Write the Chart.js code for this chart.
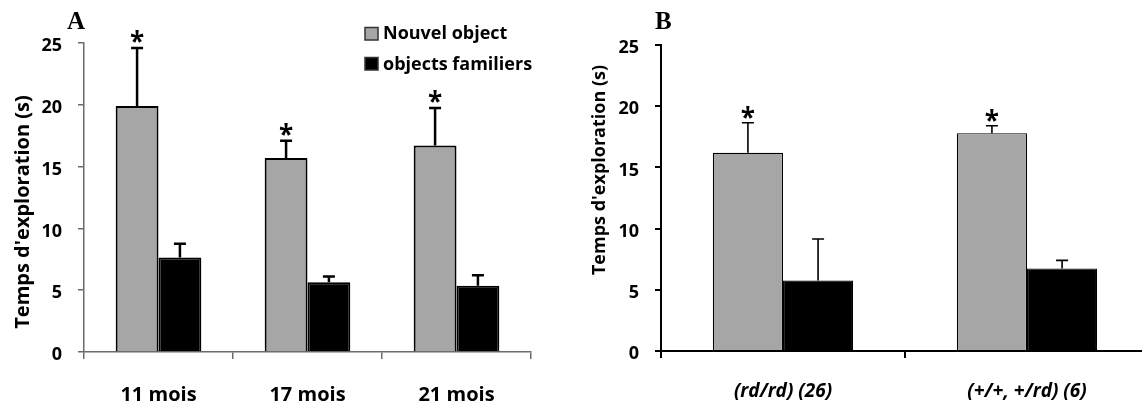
<!DOCTYPE html>
<html>
<head>
<meta charset="utf-8">
<script src="https://cdn.jsdelivr.net/npm/chart.js@4.4.1/dist/chart.umd.min.js"></script>
<style>
  html, body { margin: 0; padding: 0; background: #fff; overflow: hidden; width: 1142px; height: 405px; }
  #chartA { position: absolute; left: 0; top: 0; }
  #chartB { position: absolute; left: 578px; top: 0; }
</style>
</head>
<body>
<canvas id="chartA" width="570" height="405"></canvas>
<canvas id="chartB" width="590" height="405"></canvas>
<script>
// Data
const categoriesA = ['11 mois', '17 mois', '21 mois'];
const nouvelA = [19.9, 15.7, 16.7];
const nouvelErrA = [4.7, 1.4, 3.05];
const familiersA = [7.65, 5.65, 5.35];
const familiersErrA = [1.1, 0.45, 0.85];

const categoriesB = ['(rd/rd) (26)', '(+/+, +/rd) (6)'];
const nouvelB = [16.2, 17.8];
const nouvelErrB = [2.45, 0.6];
const familiersB = [5.75, 6.75];
const familiersErrB = [3.4, 0.65];

const seriesNames = ['Nouvel object', 'objects familiers'];
const yTitle = "Temps d'exploration (s)";
const yMin = 0, yMax = 25, yStep = 5;

const FONT = "'Open Sans', sans-serif";
const GRAY = '#a6a6a6';
const BLACK = '#000000';

// Error bars, stars, titles, legend
const overlay = {
  id: 'overlay',
  afterDatasetsDraw(chart, args, o) {
    const ctx = chart.ctx;
    const y = chart.scales.y;
    ctx.save();
    o.errors.forEach((errs, di) => {
      const meta = chart.getDatasetMeta(di);
      meta.data.forEach((bar, i) => {
        const v = chart.data.datasets[di].data[i];
        const top = y.getPixelForValue(v + errs[i]);
        ctx.strokeStyle = BLACK;
        ctx.lineWidth = o.errWidth;
        ctx.beginPath();
        ctx.moveTo(bar.x, bar.y);
        ctx.lineTo(bar.x, top);
        ctx.moveTo(bar.x - o.cap / 2, top);
        ctx.lineTo(bar.x + o.cap / 2, top);
        ctx.stroke();
        if (di === 0) {
          ctx.fillStyle = BLACK;
          ctx.font = 'bold 26px ' + FONT;
          ctx.textAlign = 'center';
          ctx.textBaseline = 'alphabetic';
          ctx.fillText('*', bar.x, top - o.starGap + 10);
        }
      });
    });
    ctx.restore();
  },
  afterDraw(chart, args, o) {
    const ctx = chart.ctx;
    ctx.save();
    ctx.fillStyle = BLACK;
    // panel letter
    ctx.font = 'bold 25px "Liberation Serif", serif';
    ctx.textAlign = 'left';
    ctx.textBaseline = 'alphabetic';
    ctx.fillText(o.letter, o.letterX, 29);
    // y title
    ctx.translate(o.titleX, o.titleY);
    ctx.rotate(-Math.PI / 2);
    ctx.font = 'bold ' + o.titleSize + 'px ' + FONT;
    ctx.textAlign = 'center';
    ctx.fillText(yTitle, 0, 0);
    ctx.restore();
    // legend
    if (o.legend) {
      ctx.save();
      ctx.font = 'bold 18px ' + FONT;
      ctx.textAlign = 'left';
      ctx.textBaseline = 'alphabetic';
      chart.data.datasets.forEach((ds, i) => {
        const by = 27.5 + i * 30;
        ctx.fillStyle = ds.backgroundColor;
        ctx.fillRect(365, by, 13, 12.5);
        ctx.strokeStyle = '#333';
        ctx.lineWidth = 1.5;
        ctx.strokeRect(365, by, 13, 12.5);
        ctx.fillStyle = BLACK;
        ctx.fillText(ds.label, 383, 39 + i * 31);
      });
      ctx.restore();
    }
    // x axis continues past the last category (panel B)
    if (o.extendAxis) {
      const a = chart.chartArea;
      ctx.save();
      ctx.strokeStyle = o.axisColor;
      ctx.lineWidth = o.axisWidth;
      ctx.beginPath();
      ctx.moveTo(a.right, a.bottom);
      ctx.lineTo(chart.width, a.bottom);
      ctx.stroke();
      ctx.restore();
    }
  }
};

function makeChart(id, labels, nouvel, nouvelErr, familiers, familiersErr, p) {
  return new Chart(document.getElementById(id), {
    type: 'bar',
    data: {
      labels,
      datasets: [
        { label: seriesNames[0], data: nouvel, backgroundColor: GRAY, borderColor: BLACK, borderWidth: p.barBorder },
        { label: seriesNames[1], data: familiers, backgroundColor: BLACK, borderColor: BLACK, borderWidth: p.barBorder }
      ]
    },
    options: {
      responsive: false,
      animation: false,
      events: [],
      layout: { padding: p.padding },
      datasets: { bar: { barPercentage: 1, categoryPercentage: 0.575 } },
      plugins: {
        legend: { display: false },
        tooltip: { enabled: false },
        overlay: {
          errors: [nouvelErr, familiersErr],
          errWidth: p.errWidth, cap: 12, starGap: p.starGap,
          letter: p.letter, letterX: p.letterX,
          titleX: p.titleX, titleY: p.titleY, titleSize: p.titleSize,
          legend: p.legend, extendAxis: p.extendAxis,
          axisColor: p.axisColor, axisWidth: p.axisWidth
        }
      },
      scales: {
        x: {
          afterFit: s => { s.height = p.xHeight; },
          grid: { display: true, drawOnChartArea: false, drawTicks: true, tickLength: 7, color: p.axisColor, lineWidth: p.axisWidth, offset: true },
          border: { display: true, color: p.axisColor, width: p.axisWidth },
          ticks: { color: BLACK, padding: p.xPad, font: p.xFont, maxRotation: 0 }
        },
        y: {
          min: yMin, max: yMax,
          afterFit: s => { s.width = p.yWidth; },
          grid: { display: true, drawOnChartArea: false, drawTicks: true, tickLength: 6, color: p.axisColor, lineWidth: p.axisWidth },
          border: { display: true, color: p.axisColor, width: p.axisWidth },
          ticks: { stepSize: yStep, color: BLACK, padding: 16, labelOffset: 3, font: { family: FONT, size: 18, weight: 'bold' } }
        }
      }
    },
    plugins: [overlay]
  });
}

makeChart('chartA', categoriesA, nouvelA, nouvelErrA, familiersA, familiersErrA, {
  letter: 'A', letterX: 67, titleX: 29, titleY: 212, titleSize: 20,
  axisColor: '#6b6b6b', axisWidth: 1.5, barBorder: 2, errWidth: 2.5, starGap: 7,
  padding: { left: 0, right: 39, top: 43, bottom: 0 }, xHeight: 53, yWidth: 84,
  xFont: { family: FONT, size: 20, weight: 'bold' }, xPad: 24, legend: true, extendAxis: false
});

makeChart('chartB', categoriesB, nouvelB, nouvelErrB, familiersB, familiersErrB, {
  letter: 'B', letterX: 77, titleX: 27, titleY: 170, titleSize: 18,
  axisColor: BLACK, axisWidth: 2, barBorder: 1.2, errWidth: 1.6, starGap: 6,
  padding: { left: 0, right: 19, top: 45, bottom: 0 }, xHeight: 54, yWidth: 83,
  xFont: { family: FONT, size: 19, weight: 'bold', style: 'italic' }, xPad: 22, legend: false, extendAxis: true
});
</script>
</body>
</html>
